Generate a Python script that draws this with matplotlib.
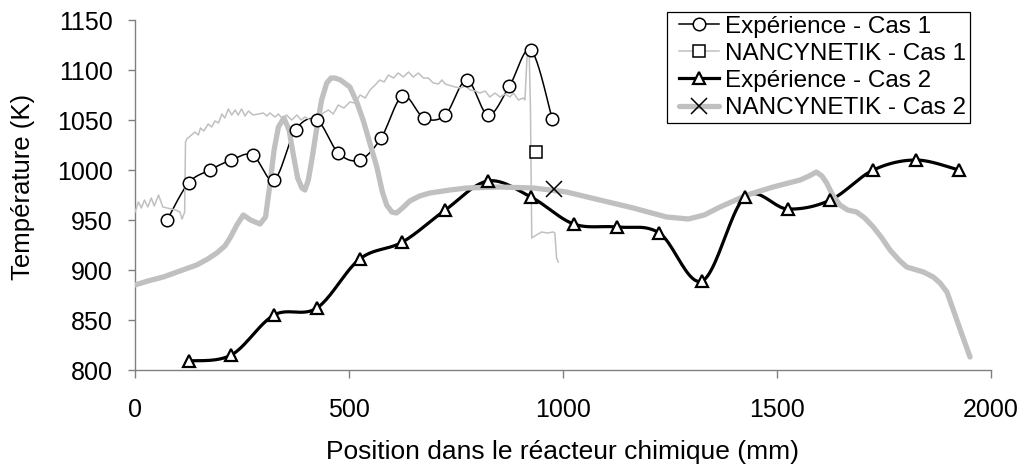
import numpy as np
import matplotlib
matplotlib.use("Agg")
import matplotlib.pyplot as plt
from matplotlib.lines import Line2D
from matplotlib.legend_handler import HandlerLine2D
from matplotlib import font_manager as fm

# ---------------------------------------------------------------- data
# Experimental temperature profiles (thermocouple positions, mm / K)
exp1_x = [75, 125, 175, 225, 275, 325, 375, 425, 475, 525,
          575, 625, 675, 725, 775, 825, 875, 925, 975]
exp1_T = [950, 987, 1000, 1010, 1015, 990, 1040, 1050, 1017, 1010,
          1032, 1074, 1052, 1055, 1090, 1055, 1084, 1120, 1051]

exp2_x = [125, 225, 325, 425, 525, 625, 725, 825, 925, 1025,
          1125, 1225, 1325, 1425, 1525, 1625, 1725, 1825, 1925]
exp2_T = [809, 815, 855, 862, 911, 928, 960, 989, 973, 946,
          943, 937, 889, 973, 961, 970, 1000, 1010, 1000]

# NANCYNETIK simulated profile, case 1
sim1_x = [0, 8, 15, 22, 30, 38, 45, 55, 65, 75, 85, 95, 105, 110, 116, 118,
          121, 132, 140, 148, 153, 161, 171, 179, 187, 195, 203, 210, 218,
          226, 234, 241, 249, 257, 265, 276, 288, 300, 308, 315, 327, 335,
          345, 354, 366, 378, 388, 397, 410, 420, 430, 440, 452, 463, 475,
          488, 502, 514, 526, 538, 549, 561, 572, 582, 592, 604, 615, 627,
          639, 650, 662, 674, 685, 697, 709, 717, 725, 732, 740, 748, 760,
          772, 783, 795, 806, 818, 829, 841, 853, 865, 876, 884, 896, 907,
          911, 916, 921, 924, 927, 938, 950, 963, 977, 981, 985, 989]
sim1_T = [958, 968, 962, 970, 963, 972, 964, 975, 963, 962, 961, 960, 958,
          951, 958, 1028, 1031, 1035, 1038, 1035, 1042, 1039, 1046, 1043,
          1049, 1047, 1056, 1052, 1061, 1055, 1060, 1055, 1061, 1054, 1059,
          1055, 1056, 1057, 1054, 1057, 1053, 1056, 1051, 1055, 1050, 1055,
          1050, 1053, 1050, 1055, 1052, 1057, 1060, 1056, 1065, 1062, 1068,
          1067, 1075, 1072, 1080, 1085, 1090, 1088, 1095, 1092, 1097, 1093,
          1098, 1093, 1097, 1092, 1092, 1087, 1086, 1090, 1086, 1085, 1084,
          1083, 1082, 1084, 1080, 1079, 1077, 1079, 1073, 1077, 1073, 1076,
          1073, 1077, 1070, 1072, 1070, 1113, 1118, 1060, 932, 935, 938, 937,
          938, 937, 912, 908]

# NANCYNETIK simulated profile, case 2
sim2_x = [0, 30, 66, 105, 144, 170, 191, 210, 222, 238, 253, 270, 292, 305,
          315, 325, 335, 348, 360, 370, 380, 390, 397, 405, 415, 424, 436,
          448, 458, 467, 480, 502, 518, 533, 550, 565, 578, 588, 600, 611,
          625, 642, 665, 689, 736, 775, 850, 931, 1008, 1086, 1164, 1242,
          1293, 1330, 1367, 1430, 1491, 1554, 1575, 1592, 1605, 1616, 1630,
          1647, 1665, 1686, 1705, 1725, 1745, 1764, 1785, 1803, 1842, 1865,
          1881, 1897, 1912, 1930, 1951]
sim2_T = [885, 889, 893, 899, 905, 911, 917, 924, 932, 945, 955, 950, 946,
          953, 985, 1020, 1043, 1052, 1040, 1015, 992, 982, 980, 990, 1015,
          1040, 1070, 1087, 1092, 1092, 1090, 1083, 1068, 1050, 1025, 1003,
          978, 965, 958, 957, 962, 969, 974, 977, 980, 982, 983, 982, 978,
          970, 962, 953, 951, 955, 963, 975, 983, 990, 994, 998, 994, 987,
          975, 965, 960, 958, 952, 943, 932, 920, 910, 903, 898, 893, 887,
          878, 860, 838, 813]

# Single highlighted points on the simulated curves
sim1_mark = (937, 1018)
sim2_mark = (980, 981)

labels = ["Expérience - Cas 1", "NANCYNETIK - Cas 1",
          "Expérience - Cas 2", "NANCYNETIK - Cas 2"]

xticks = [0, 500, 1000, 1500, 2000]
yticks = [800, 850, 900, 950, 1000, 1050, 1100, 1150]


def smooth_path(x, y, n=24):
    """Bezier 'smoothed line' through the points (Catmull-Rom controls)."""
    p = np.column_stack([x, y]).astype(float)
    ext = np.vstack([p[0], p, p[-1]])
    out = [p[0]]
    t = np.linspace(0, 1, n)[1:, None]
    for i in range(len(p) - 1):
        p0, p1, p2, p3 = ext[i], ext[i + 1], ext[i + 2], ext[i + 3]
        c1 = p1 + (p2 - p0) / 6.0
        c2 = p2 - (p3 - p1) / 6.0
        seg = ((1 - t) ** 3) * p1 + 3 * ((1 - t) ** 2) * t * c1 \
            + 3 * (1 - t) * t ** 2 * c2 + t ** 3 * p2
        out.extend(seg)
    out = np.array(out)
    return out[:, 0], out[:, 1]


names = {f.name for f in fm.fontManager.ttflist}
base_font = "Liberation Sans" if "Liberation Sans" in names else "DejaVu Sans"
plt.rcParams["font.family"] = [base_font, "DejaVu Sans"]

GRAY = "#c0c0c0"
AXIS = "#808080"

fig = plt.figure(figsize=(10.26, 4.75), dpi=100)
ax = fig.add_axes([135 / 1026, 1 - 370 / 475, (991 - 135) / 1026, 350 / 475])

# black experimental lines below, grey simulated lines above, markers on top
sx, sy = smooth_path(exp1_x, exp1_T)
ax.plot(sx, sy, color="black", lw=1.1, zorder=2)
sx, sy = smooth_path(exp2_x, exp2_T)
ax.plot(sx, sy, color="black", lw=2.3, zorder=2, solid_joinstyle="round")

ax.plot(sim1_x, sim1_T, color=GRAY, lw=1.1, zorder=3)
ax.plot(sim2_x, sim2_T, color=GRAY, lw=3.8, zorder=3,
        solid_joinstyle="round", solid_capstyle="round")

ax.plot(exp1_x, exp1_T, ls="none", marker="o", ms=9, mfc="white",
        mec="black", mew=1.1, zorder=4)
ax.plot(exp2_x, exp2_T, ls="none", marker="^", ms=9, mfc="white",
        mec="black", mew=1.6, zorder=4)
ax.plot([sim1_mark[0]], [sim1_mark[1]], ls="none", marker="s", ms=9,
        mfc="white", mec="black", mew=1.1, zorder=4)
ax.plot([sim2_mark[0]], [sim2_mark[1]], ls="none", marker="x", ms=11,
        mec="black", mew=1.1, zorder=4)

ax.set_xlim(0, 2000)
ax.set_ylim(800, 1150)
ax.set_xticks(xticks)
ax.set_yticks(yticks)
for s in ("top", "right"):
    ax.spines[s].set_visible(False)
for s in ("left", "bottom"):
    ax.spines[s].set_color(AXIS)
    ax.spines[s].set_linewidth(1.0)
ax.tick_params(axis="both", direction="out", length=5.4, width=1.0,
               color=AXIS)
ax.tick_params(axis="y", labelsize=18, pad=10.5)
ax.tick_params(axis="x", labelsize=18, pad=14.8)

ax.set_ylabel("Température (K)", fontsize=18.5)
ax.yaxis.set_label_coords(-0.1168, 0.524)
ax.set_xlabel("Position dans le réacteur chimique (mm)", fontsize=19,
              labelpad=13)

handles = [
    Line2D([], [], color="black", lw=1.1, marker="o", ms=9, mfc="white",
           mec="black", mew=1.1),
    Line2D([], [], color=GRAY, lw=1.1, marker="s", ms=9, mfc="white",
           mec="black", mew=1.1),
    Line2D([], [], color="black", lw=2.3, marker="^", ms=9, mfc="white",
           mec="black", mew=1.6),
    Line2D([], [], color=GRAY, lw=3.8, marker="x", ms=11, mec="black",
           mew=1.1, solid_capstyle="round"),
]
leg = ax.legend(handles, labels, loc="upper right",
                bbox_to_anchor=(970 / 1026, 1 - 12 / 475),
                bbox_transform=fig.transFigure, borderaxespad=0,
                fontsize=17.5, frameon=True, fancybox=False, framealpha=1,
                edgecolor="black", handlelength=1.99, handletextpad=0.25,
                labelspacing=0.21, borderpad=0.15,
                handler_map={Line2D: HandlerLine2D(xpad=0.35)})
leg.get_frame().set_linewidth(0.9)

fig.savefig("out.png", dpi=100)
